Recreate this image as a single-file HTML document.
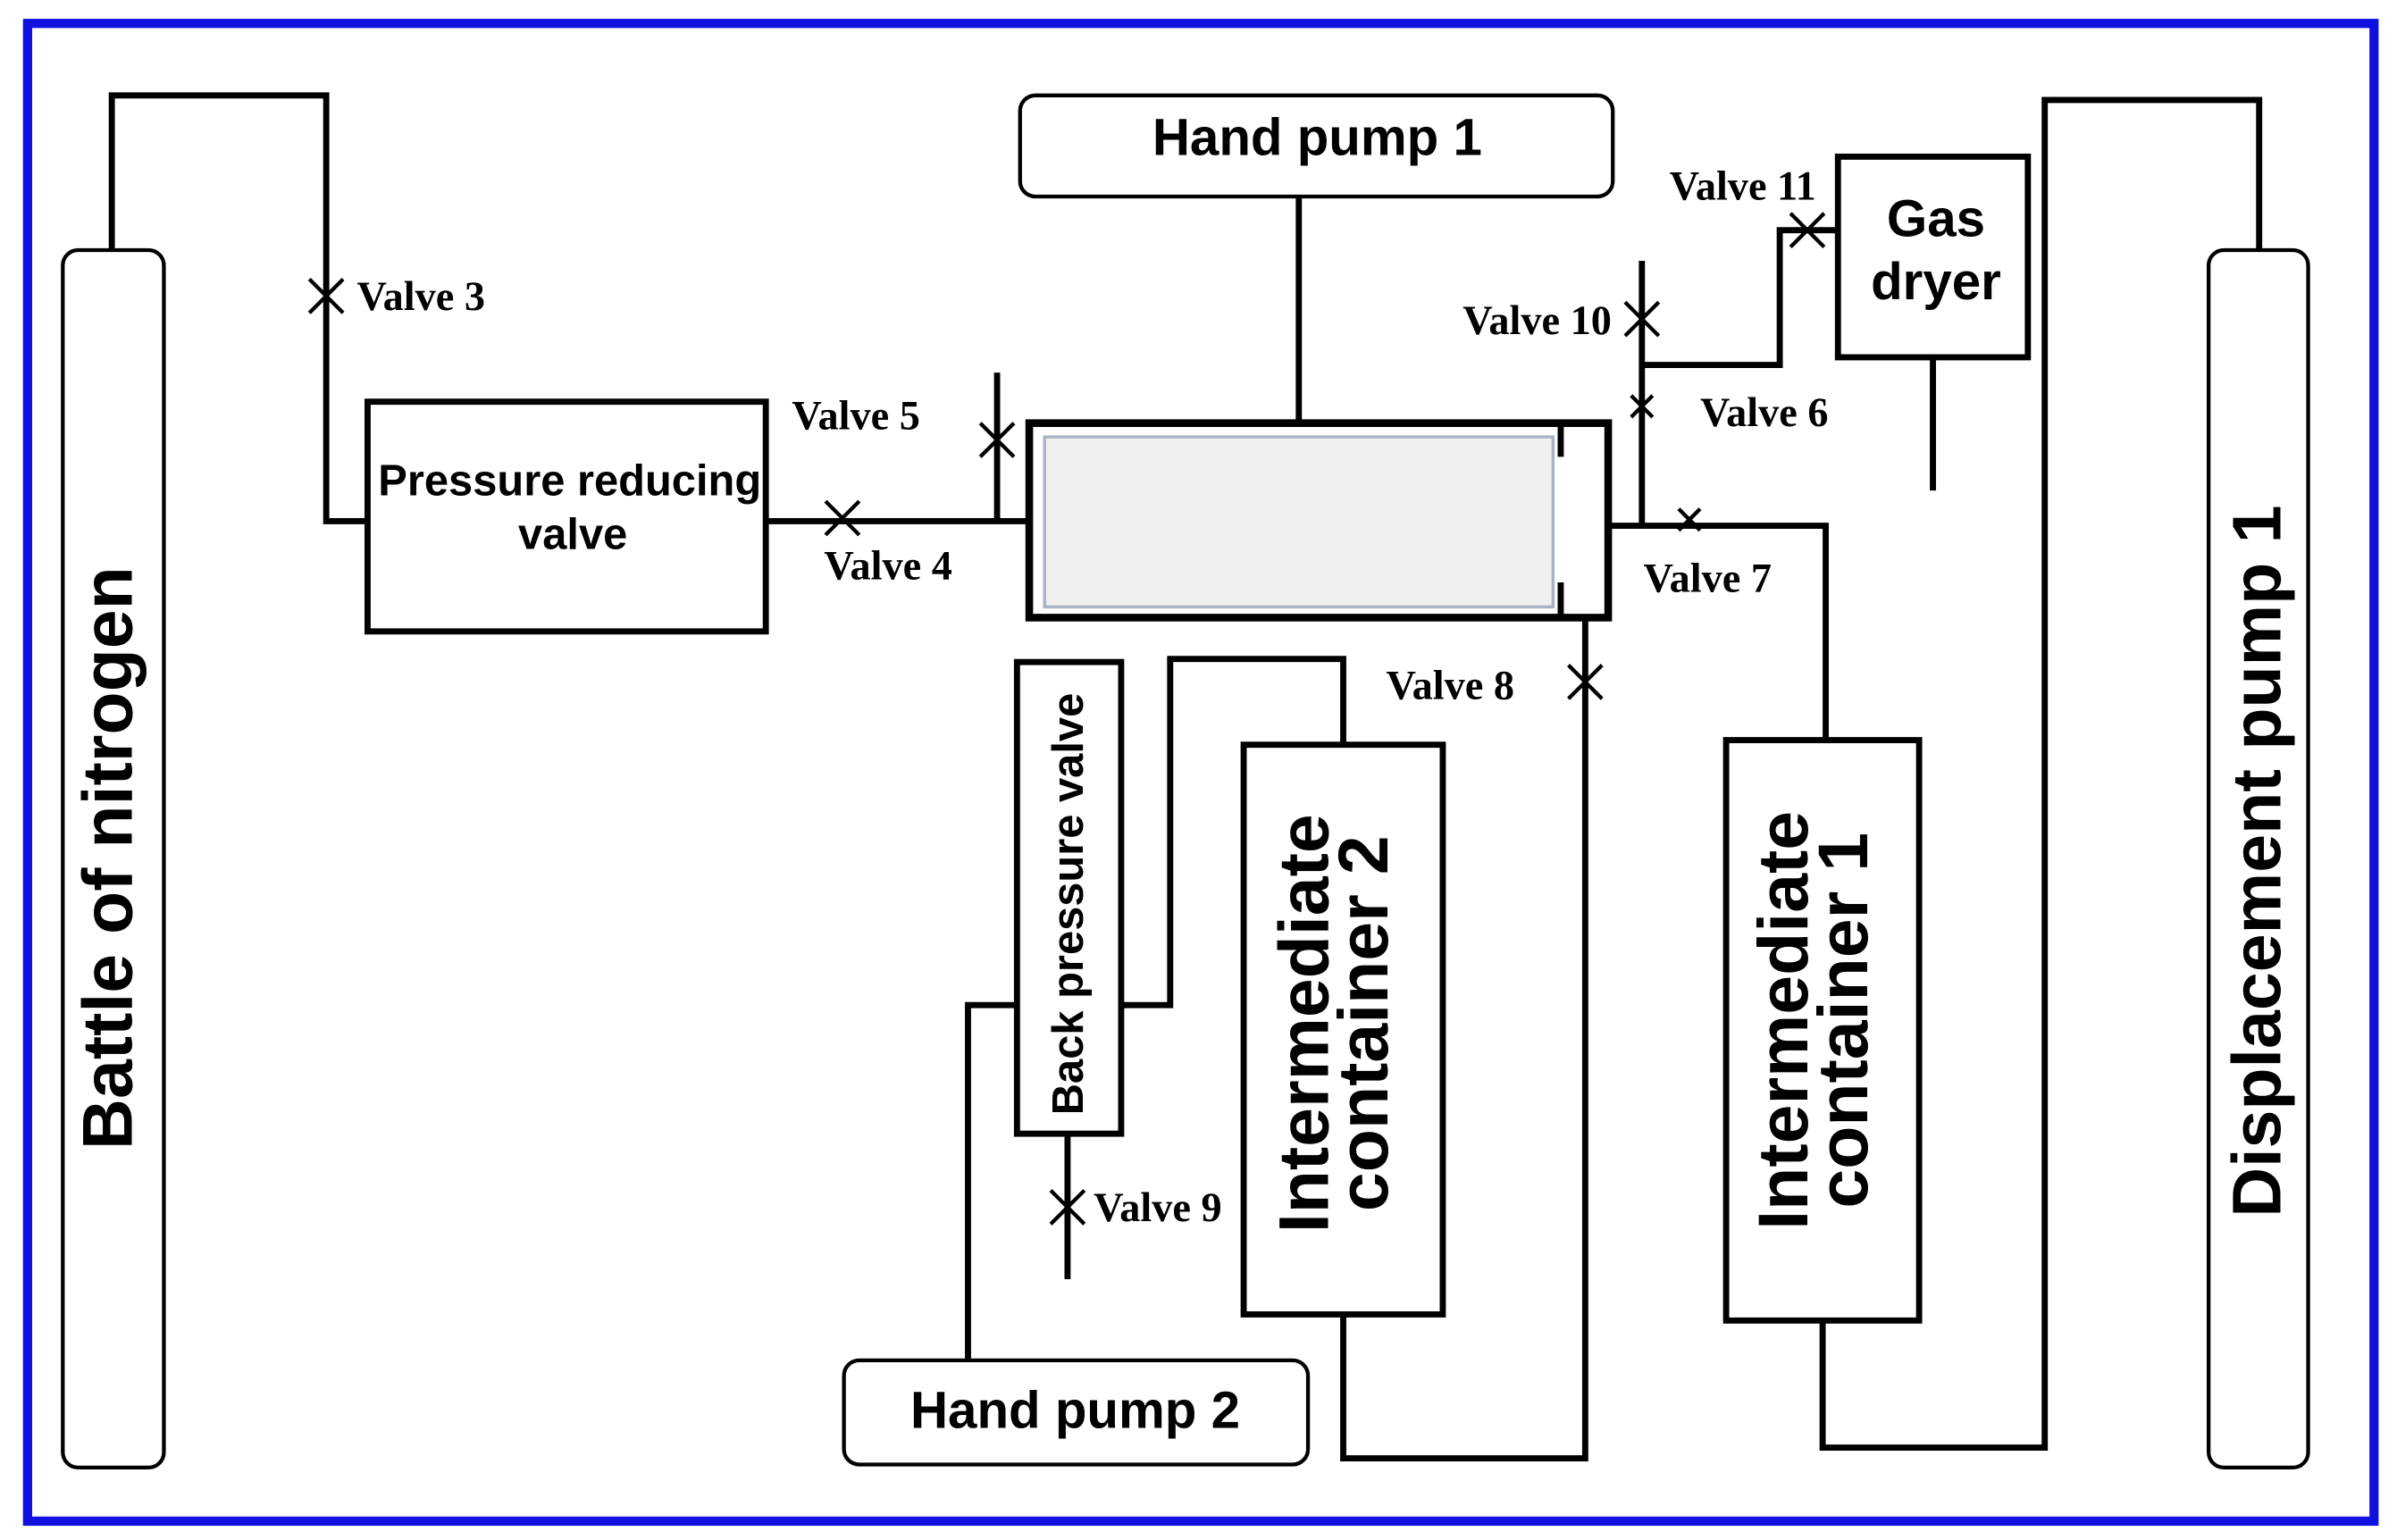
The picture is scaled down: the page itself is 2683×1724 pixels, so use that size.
<!DOCTYPE html>
<html><head><meta charset="utf-8"><style>
html,body{margin:0;padding:0;background:#fff;}
svg{display:block;}
.s{font-family:"Liberation Sans",sans-serif;font-weight:bold;fill:#000;}
.r{font-family:"Liberation Serif",serif;font-weight:bold;fill:#000;font-size:27px;}
</style></head><body>
<svg width="2683" height="1724" viewBox="0 0 1565 1005" xmlns="http://www.w3.org/2000/svg">
<rect x="0" y="0" width="1565" height="1005" fill="#fff"/>
<rect x="18" y="15" width="1532" height="978" fill="none" stroke="#1010e0" stroke-width="6"/>
<g fill="none" stroke="#000" stroke-width="4">
<rect x="41" y="163" width="66" height="795" rx="10" stroke-width="2.5"/>
<polyline points="73,163 73,62 213,62 213,340 240,340"/>
<rect x="240" y="262" width="260" height="150"/>
<line x1="500" y1="340" x2="672" y2="340"/>
<line x1="651" y1="243" x2="651" y2="340"/>
<rect x="672" y="276" width="378" height="127" stroke-width="5"/>
<line x1="1019" y1="278" x2="1019" y2="298"/>
<line x1="1019" y1="380" x2="1019" y2="401"/>
<rect x="666" y="62" width="387" height="66" rx="10" stroke-width="2.5"/>
<line x1="848" y1="128" x2="848" y2="276"/>
<polyline points="1050,343 1192,343 1192,483"/>
<line x1="1072" y1="170" x2="1072" y2="343"/>
<polyline points="1072,238 1162,238 1162,150 1200,150"/>
<rect x="1200" y="102" width="124" height="131"/>
<line x1="1262" y1="233" x2="1262" y2="320"/>
<rect x="1442" y="163" width="65" height="795" rx="10" stroke-width="2.5"/>
<polyline points="1475,163 1475,65 1335,65 1335,945 1190,945 1190,862"/>
<rect x="1127" y="483" width="126" height="379"/>
<polyline points="1035,403 1035,952 877,952 877,858"/>
<rect x="812" y="486" width="130" height="372"/>
<polyline points="877,486 877,430 764,430 764,656 732,656"/>
<rect x="664" y="432" width="68" height="308"/>
<polyline points="664,656 632,656 632,888"/>
<line x1="697" y1="740" x2="697" y2="835"/>
<rect x="551" y="888" width="303" height="68" rx="10" stroke-width="2.5"/>
</g>
<rect x="682" y="285" width="332" height="111" fill="#eef0f0" stroke="#a8b4c4" stroke-width="2"/>
<g stroke="#000" stroke-width="2.5">
<path d="M202,182 l22,22 M224,182 l-22,22"/>
<path d="M539,327 l22,22 M561,327 l-22,22"/>
<path d="M640,276 l22,22 M662,276 l-22,22"/>
<path d="M1061,197 l22,22 M1083,197 l-22,22"/>
<path d="M1065,258 l14,14 M1079,258 l-14,14"/>
<path d="M1096,332 l14,14 M1110,332 l-14,14"/>
<path d="M1169,139 l22,22 M1191,139 l-22,22"/>
<path d="M1024,434 l22,22 M1046,434 l-22,22"/>
<path d="M686,777 l22,22 M708,777 l-22,22"/>
</g>
<text class="r" x="233" y="202" font-size="24">Valve 3</text>
<text class="r" x="538" y="378" font-size="25">Valve 4</text>
<text class="r" x="517" y="280" font-size="28">Valve 5</text>
<text class="r" x="1110" y="278" font-size="28">Valve 6</text>
<text class="r" x="1073" y="386" font-size="28">Valve 7</text>
<text class="r" x="905" y="456" font-size="28">Valve 8</text>
<text class="r" x="714" y="797" font-size="25">Valve 9</text>
<text class="r" x="955" y="218" font-size="26">Valve 10</text>
<text class="r" x="1090" y="130" font-size="27">Valve 11</text>
<text class="s" x="372" y="323" font-size="28.5" text-anchor="middle">Pressure reducing</text>
<text class="s" x="374" y="358" font-size="28.5" text-anchor="middle">valve</text>
<text class="s" x="860" y="101" font-size="34" text-anchor="middle">Hand pump 1</text>
<text class="s" x="702" y="932" font-size="34" text-anchor="middle">Hand pump 2</text>
<text class="s" x="1264" y="154" font-size="34" text-anchor="middle">Gas</text>
<text class="s" x="1264" y="195" font-size="34" text-anchor="middle">dryer</text>
<text class="s" font-size="46" text-anchor="middle" transform="translate(86,560) rotate(-90)">Battle of nitrogen</text>
<text class="s" font-size="45" text-anchor="middle" transform="translate(1489,562) rotate(-90)">Displacement pump 1</text>
<text class="s" font-size="28.5" text-anchor="middle" transform="translate(707,590) rotate(-90)">Back pressure valve</text>
<text class="s" font-size="46" text-anchor="middle" transform="translate(867,668) rotate(-90)">Intermediate</text>
<text class="s" font-size="46" text-anchor="middle" transform="translate(906,668) rotate(-90)">container 2</text>
<text class="s" font-size="46" text-anchor="middle" transform="translate(1180,666) rotate(-90)">Intermediate</text>
<text class="s" font-size="46" text-anchor="middle" transform="translate(1219,666) rotate(-90)">container 1</text>
</svg>
</body></html>
